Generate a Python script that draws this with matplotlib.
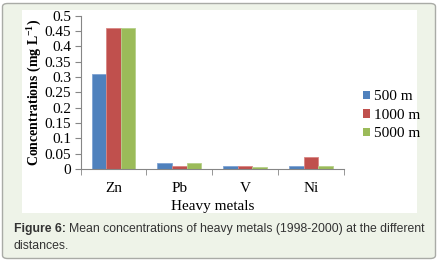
import numpy as np
import matplotlib
matplotlib.use("Agg")
import matplotlib.pyplot as plt
from matplotlib.patches import FancyBboxPatch, Rectangle

metals = ["Zn", "Pb", "V", "Ni"]
d500 = [0.31, 0.02, 0.01, 0.01]
d1000 = [0.46, 0.01, 0.01, 0.04]
d5000 = [0.46, 0.02, 0.005, 0.01]
series = ["500 m", "1000 m", "5000 m"]
colors = ["#4F81BD", "#C0504D", "#9BBB59"]
edges = ["#7FA3D3", "#D88683", "#B6D08A"]
yticks = [0, 0.05, 0.1, 0.15, 0.2, 0.25, 0.3, 0.35, 0.4, 0.45, 0.5]

plt.rcParams["mathtext.fontset"] = "custom"
plt.rcParams["mathtext.rm"] = "Liberation Serif"
plt.rcParams["mathtext.bf"] = "Liberation Serif:bold"

W, H = 441, 261
fig = plt.figure(figsize=(W / 100, H / 100), dpi=100)
fig.patch.set_facecolor("white")

# outer caption box and white chart panel
fig.patches.append(FancyBboxPatch((2.5 / W, 2.5 / H), 433 / W, 255 / H,
                                  boxstyle="round,pad=0,rounding_size=0.012",
                                  transform=fig.transFigure, facecolor="#EEF3E8",
                                  edgecolor="#A9ABA6", linewidth=1.0, zorder=0))
fig.patches.append(Rectangle((22 / W, (H - 213) / H), 395 / W, 203 / H,
                             transform=fig.transFigure, facecolor="white",
                             edgecolor="none", zorder=0.5))

ax = fig.add_axes([80.7 / W, 92 / H, 263 / W, 153.3 / H])
ax.set_facecolor("none")
ax.set_zorder(2)

x = np.arange(len(metals))
w = 0.222
for i, (vals, name) in enumerate(zip([d500, d1000, d5000], series)):
    ax.bar(x + (i - 1) * w, vals, w, color=colors[i], edgecolor=edges[i],
           linewidth=0.6, label=name)

ax.set_xlim(-0.5, len(metals) - 0.5)
ax.set_ylim(0, 0.5)
ax.set_yticks(yticks)
ax.set_yticklabels([("%g" % t) for t in yticks], family="Liberation Serif", fontsize=11)
ax.set_xticks(x)
ax.set_xticklabels(metals, family="Liberation Serif", fontsize=11)
ax.set_xticks(np.arange(len(metals) + 1) - 0.5, minor=True)
ax.tick_params(axis="x", which="major", length=0, pad=9)
ax.tick_params(axis="x", which="minor", length=4, color="#868686")
ax.tick_params(axis="y", length=4, color="#868686", pad=3)
for s in ["top", "right"]:
    ax.spines[s].set_visible(False)
for s in ["left", "bottom"]:
    ax.spines[s].set_color("#868686")
    ax.spines[s].set_linewidth(0.8)

ax.set_xlabel("Heavy metals", family="Liberation Serif", fontsize=11, labelpad=4)
ax.set_ylabel(r"Concentrations (mg L$^{\mathbf{-1}}$)", family="Liberation Serif",
              fontsize=10, fontweight="bold", labelpad=1)

leg = ax.legend(loc="center left", bbox_to_anchor=(1.05, 0.35), frameon=False,
                prop={"family": "Liberation Serif", "size": 11},
                handlelength=0.45, handleheight=0.45, handletextpad=0.3,
                labelspacing=0.35, borderaxespad=0)
for h in leg.legend_handles:
    h.set_edgecolor("none")

cap = dict(fontsize=8.8, family="Liberation Sans", color="#333333", va="center")
t1 = fig.text(14 / W, 1 - 229 / H, "Figure 6:", fontweight="bold", **cap)
fig.canvas.draw()
bb = t1.get_window_extent()
fig.text((bb.x1 + 3) / W, 1 - 229 / H,
         "Mean concentrations of heavy metals (1998-2000) at the different", **cap)
fig.text(14 / W, 1 - 246 / H, "distances.", **cap)

fig.savefig("out.png", dpi=100)
